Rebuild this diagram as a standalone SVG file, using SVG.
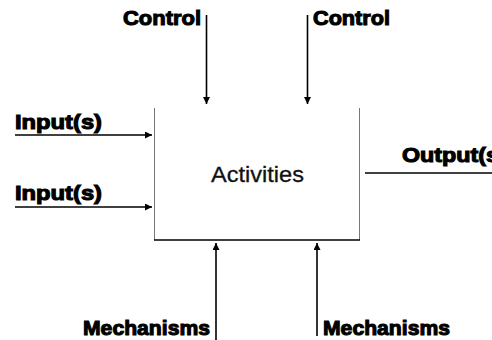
<svg xmlns="http://www.w3.org/2000/svg" width="492" height="340" viewBox="0 0 492 340">
  <style>
    .lbl { font-family: "Liberation Sans", Arial, sans-serif; font-weight: bold; font-size: 21px; fill: #000; stroke: #000; stroke-width: 1.1; }
    .act { font-family: "Liberation Sans", Arial, sans-serif; font-size: 22px; fill: #111; stroke: #111; stroke-width: 0.3; }
    .arr { stroke: #000; stroke-width: 1.6; fill: none; }
  </style>
  <defs>
    <marker id="head" viewBox="0 0 10 10" refX="10" refY="5" markerWidth="7" markerHeight="7" markerUnits="userSpaceOnUse" orient="auto">
      <path d="M0,0 L10,5 L0,10 Z" fill="#000"/>
    </marker>
  </defs>
  <rect width="492" height="340" fill="#fff"/>

  <!-- activity box: grey sides, black base, open top -->
  <g id="activities">
    <line x1="154.5" y1="108" x2="154.5" y2="240" stroke="#777" stroke-width="1"/>
    <line x1="359.5" y1="108" x2="359.5" y2="240" stroke="#777" stroke-width="1"/>
    <line x1="154" y1="240" x2="360" y2="240" stroke="#000" stroke-width="1.6"/>
    <text class="act" x="211" y="182" textLength="93" lengthAdjust="spacingAndGlyphs">Activities</text>
  </g>

  <g id="control-1"><text class="lbl" x="123" y="25" textLength="78" lengthAdjust="spacingAndGlyphs">Control</text></g>
  <g id="control-2"><text class="lbl" x="313" y="25" textLength="77" lengthAdjust="spacingAndGlyphs">Control</text></g>
  <g id="input-1"><text class="lbl" x="15" y="129" textLength="87" lengthAdjust="spacingAndGlyphs">Input(s)</text></g>
  <g id="input-2"><text class="lbl" x="15" y="200" textLength="87" lengthAdjust="spacingAndGlyphs">Input(s)</text></g>
  <g id="output"><text class="lbl" x="402" y="162" textLength="97" lengthAdjust="spacingAndGlyphs">Output(s</text></g>
  <g id="mechanisms-1"><text class="lbl" x="83" y="335" textLength="127" lengthAdjust="spacingAndGlyphs">Mechanisms</text></g>
  <g id="mechanisms-2"><text class="lbl" x="323" y="335" textLength="127" lengthAdjust="spacingAndGlyphs">Mechanisms</text></g>

  <g id="connectors">
    <line class="arr" x1="206.5" y1="15" x2="206.5" y2="104" marker-end="url(#head)"/>
    <line class="arr" x1="307.5" y1="15" x2="307.5" y2="104" marker-end="url(#head)"/>
    <line class="arr" x1="15" y1="135" x2="152" y2="135" marker-end="url(#head)"/>
    <line class="arr" x1="15" y1="207" x2="152" y2="207" marker-end="url(#head)"/>
    <line class="arr" x1="365" y1="173" x2="492" y2="173"/>
    <line class="arr" x1="216" y1="341" x2="216" y2="243" marker-end="url(#head)"/>
    <line class="arr" x1="317" y1="336" x2="317" y2="243" marker-end="url(#head)"/>
  </g>
</svg>
